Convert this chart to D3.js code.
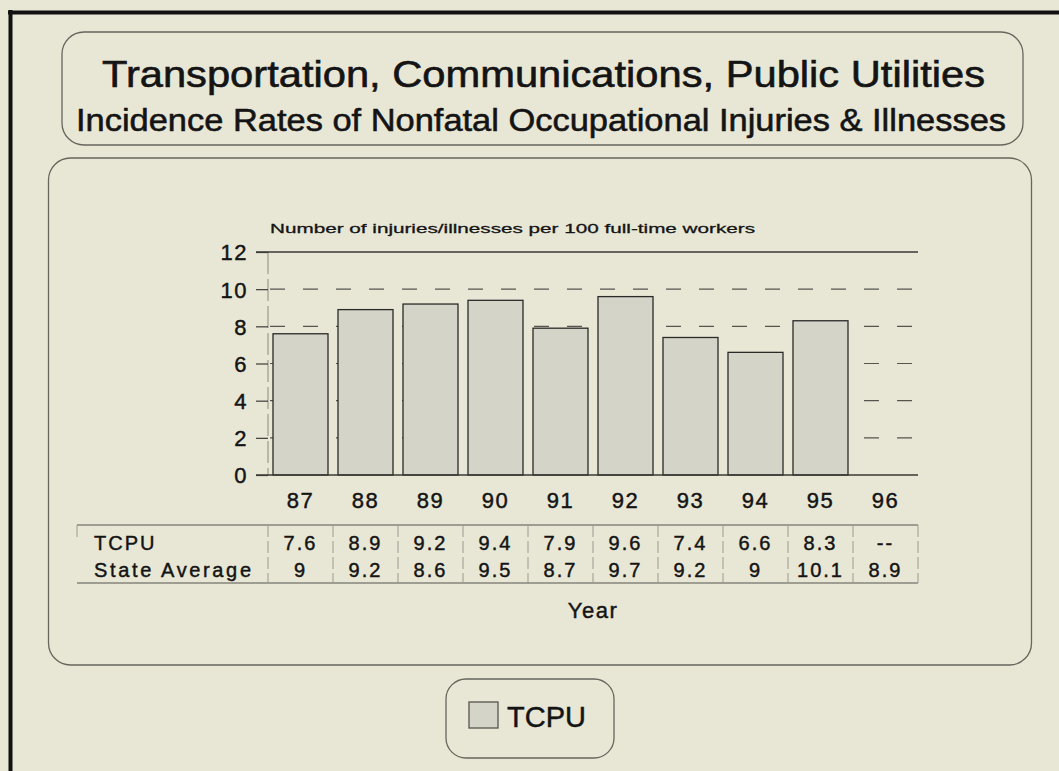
<!DOCTYPE html>
<html>
<head>
<meta charset="utf-8">
<script src="https://cdn.jsdelivr.net/npm/d3@7/dist/d3.min.js"></script>
<style>
  html, body { margin: 0; padding: 0; background: #e8e7d6; }
  svg { display: block; }
  text { font-family: "Liberation Sans", Arial, Helvetica, sans-serif; fill: #141414; stroke: #141414; stroke-width: 0.45px; }
</style>
</head>
<body>
<svg id="chart" width="1059" height="771"></svg>
<script>
// ---- data ----
const years = ["87", "88", "89", "90", "91", "92", "93", "94", "95", "96"];
const tcpu = [7.6, 8.9, 9.2, 9.4, 7.9, 9.6, 7.4, 6.6, 8.3, null];
const stateAverage = [9, 9.2, 8.6, 9.5, 8.7, 9.7, 9.2, 9, 10.1, 8.9];
const yTicks = [0, 2, 4, 6, 8, 10, 12];
const rowLabels = ["TCPU", "State Average"];
const titleText = "Transportation, Communications, Public Utilities";
const subtitleText = "Incidence Rates of Nonfatal Occupational Injuries & Illnesses";
const yAxisTitle = "Number of injuries/illnesses per 100 full-time workers";
const xAxisTitle = "Year";
const legendLabel = "TCPU";

// ---- layout ----
const svg = d3.select("#chart");
const bg = "#e8e7d6";
const barFill = "#d4d4c8";
const ink = "#141414";
const panelStroke = "#66665c";

svg.append("rect").attr("width", 1059).attr("height", 771).attr("fill", bg);

// outer black frame (left + top)
svg.append("line").attr("x1", 10.5).attr("x2", 10.5).attr("y1", 10).attr("y2", 771)
  .attr("stroke", "#111").attr("stroke-width", 4);
svg.append("line").attr("x1", 8).attr("x2", 1059).attr("y1", 12.5).attr("y2", 12.5)
  .attr("stroke", "#111").attr("stroke-width", 4);

// panels
function panel(x, y, w, h, r) {
  svg.append("rect").attr("x", x).attr("y", y).attr("width", w).attr("height", h)
    .attr("rx", r).attr("ry", r)
    .attr("fill", "none").attr("stroke", panelStroke).attr("stroke-width", 1.3);
}
panel(62, 32, 961, 113, 22);
panel(48.5, 158, 983, 507, 22);
panel(446, 679, 168, 79, 20);

// titles
svg.append("text").attr("x", 102).attr("y", 87)
  .attr("font-size", 36).attr("textLength", 883).attr("lengthAdjust", "spacingAndGlyphs")
  .style("stroke-width", "0.6px")
  .text(titleText);
svg.append("text").attr("x", 76).attr("y", 131)
  .attr("font-size", 31).attr("textLength", 930).attr("lengthAdjust", "spacingAndGlyphs")
  .style("stroke-width", "0.55px")
  .text(subtitleText);

// scales
const x = d3.scaleBand().domain(years).range([268, 918]).paddingInner(10 / 65).paddingOuter(5 / 65);
const y = d3.scaleLinear().domain([0, 12]).range([475, 252]);

const g = svg.append("g");

// y axis title
g.append("text").attr("x", 270).attr("y", 233)
  .attr("font-size", 13.5).attr("textLength", 485).attr("lengthAdjust", "spacingAndGlyphs")
  .style("stroke-width", "0.3px")
  .text(yAxisTitle);

// vertical dashed y-axis line
g.append("line").attr("x1", 268).attr("x2", 268).attr("y1", y(12)).attr("y2", y(0))
  .attr("stroke", "#8a8a80").attr("stroke-width", 1).attr("stroke-dasharray", "22,5");

// gridlines
yTicks.filter(t => t > 0).forEach(t => {
  const solid = t === 12;
  g.append("line").attr("x1", solid ? 256 : 270).attr("x2", 918)
    .attr("y1", y(t)).attr("y2", y(t))
    .attr("stroke", solid ? "#3a3a36" : "#55554e").attr("stroke-width", solid ? 1.3 : 1.2)
    .attr("stroke-dasharray", solid ? null : "15,18");
});

// y axis with ticks
const yAxis = d3.axisLeft(y).tickValues(yTicks).tickSize(12).tickPadding(8).tickFormat(d3.format("d"));
const ya = g.append("g").attr("transform", "translate(268,0)").call(yAxis);
ya.select(".domain").remove();
ya.selectAll(".tick line").attr("stroke", "#3a3a36").attr("stroke-width", 1.2);
ya.selectAll(".tick text").attr("font-size", 22).attr("fill", ink).attr("letter-spacing", 1.5)
  .attr("font-family", "'Liberation Sans', Arial, sans-serif").attr("dy", "0.36em");

// bars
const barData = years.map((yr, i) => ({ yr, v: tcpu[i] })).filter(d => d.v !== null);
g.selectAll("rect.bar").data(barData).enter().append("rect")
  .attr("class", "bar")
  .attr("x", d => x(d.yr)).attr("width", x.bandwidth())
  .attr("y", d => y(d.v)).attr("height", d => y(0) - y(d.v))
  .attr("fill", barFill).attr("stroke", "#2a2a28").attr("stroke-width", 1.3);

// baseline
g.append("line").attr("x1", 256).attr("x2", 918).attr("y1", y(0)).attr("y2", y(0))
  .attr("stroke", "#3a3a36").attr("stroke-width", 1.3);

// x axis labels
const xAxis = d3.axisBottom(x).tickSize(0).tickPadding(0);
const xa = g.append("g").attr("transform", "translate(0,0)").call(xAxis);
xa.select(".domain").remove();
xa.selectAll(".tick text").attr("y", 508).attr("dy", 0).attr("font-size", 22)
  .attr("fill", ink).attr("letter-spacing", 1.5)
  .attr("font-family", "'Liberation Sans', Arial, sans-serif");

// data table
const tTop = 525, tBot = 583;
g.append("line").attr("x1", 77).attr("x2", 918).attr("y1", tTop).attr("y2", tTop)
  .attr("stroke", "#55554e").attr("stroke-width", 1.2);
g.append("line").attr("x1", 77).attr("x2", 918).attr("y1", tBot).attr("y2", tBot)
  .attr("stroke", "#55554e").attr("stroke-width", 1.2);
const seps = years.map(yr => x(yr) - x.step() * x.paddingInner() / 2).concat([918]);
g.selectAll("line.sep").data(seps).enter().append("line").attr("class", "sep")
  .attr("x1", d => d).attr("x2", d => d).attr("y1", tTop).attr("y2", tBot)
  .attr("stroke", "#9a9a90").attr("stroke-width", 1).attr("stroke-dasharray", "12,4");
g.append("line").attr("x1", 77).attr("x2", 77).attr("y1", tTop).attr("y2", tTop + 12)
  .attr("stroke", "#9a9a90").attr("stroke-width", 1);

const rowY = [550, 577];
g.append("text").attr("x", 94).attr("y", rowY[0]).attr("font-size", 20).attr("letter-spacing", 2)
  .text(rowLabels[0]);
g.append("text").attr("x", 94).attr("y", rowY[1]).attr("font-size", 20)
  .attr("textLength", 157).attr("lengthAdjust", "spacing").text(rowLabels[1]);

const cx = yr => x(yr) + x.bandwidth() / 2;
g.selectAll("text.r1").data(years).enter().append("text").attr("class", "r1")
  .attr("x", (d) => cx(d)).attr("y", rowY[0]).attr("text-anchor", "middle")
  .attr("font-size", 20).attr("letter-spacing", 2)
  .text((d, i) => tcpu[i] === null ? "--" : String(tcpu[i]));
g.selectAll("text.r2").data(years).enter().append("text").attr("class", "r2")
  .attr("x", (d) => cx(d)).attr("y", rowY[1]).attr("text-anchor", "middle")
  .attr("font-size", 20).attr("letter-spacing", 2)
  .text((d, i) => String(stateAverage[i]));

// x axis title
g.append("text").attr("x", 593).attr("y", 618).attr("text-anchor", "middle")
  .attr("font-size", 22).attr("letter-spacing", 1.5).text(xAxisTitle);

// legend
svg.append("rect").attr("x", 469).attr("y", 702).attr("width", 29).attr("height", 26)
  .attr("fill", barFill).attr("stroke", "#55554e").attr("stroke-width", 1.3);
svg.append("text").attr("x", 507).attr("y", 727).attr("font-size", 29).text(legendLabel);
</script>
</body>
</html>
